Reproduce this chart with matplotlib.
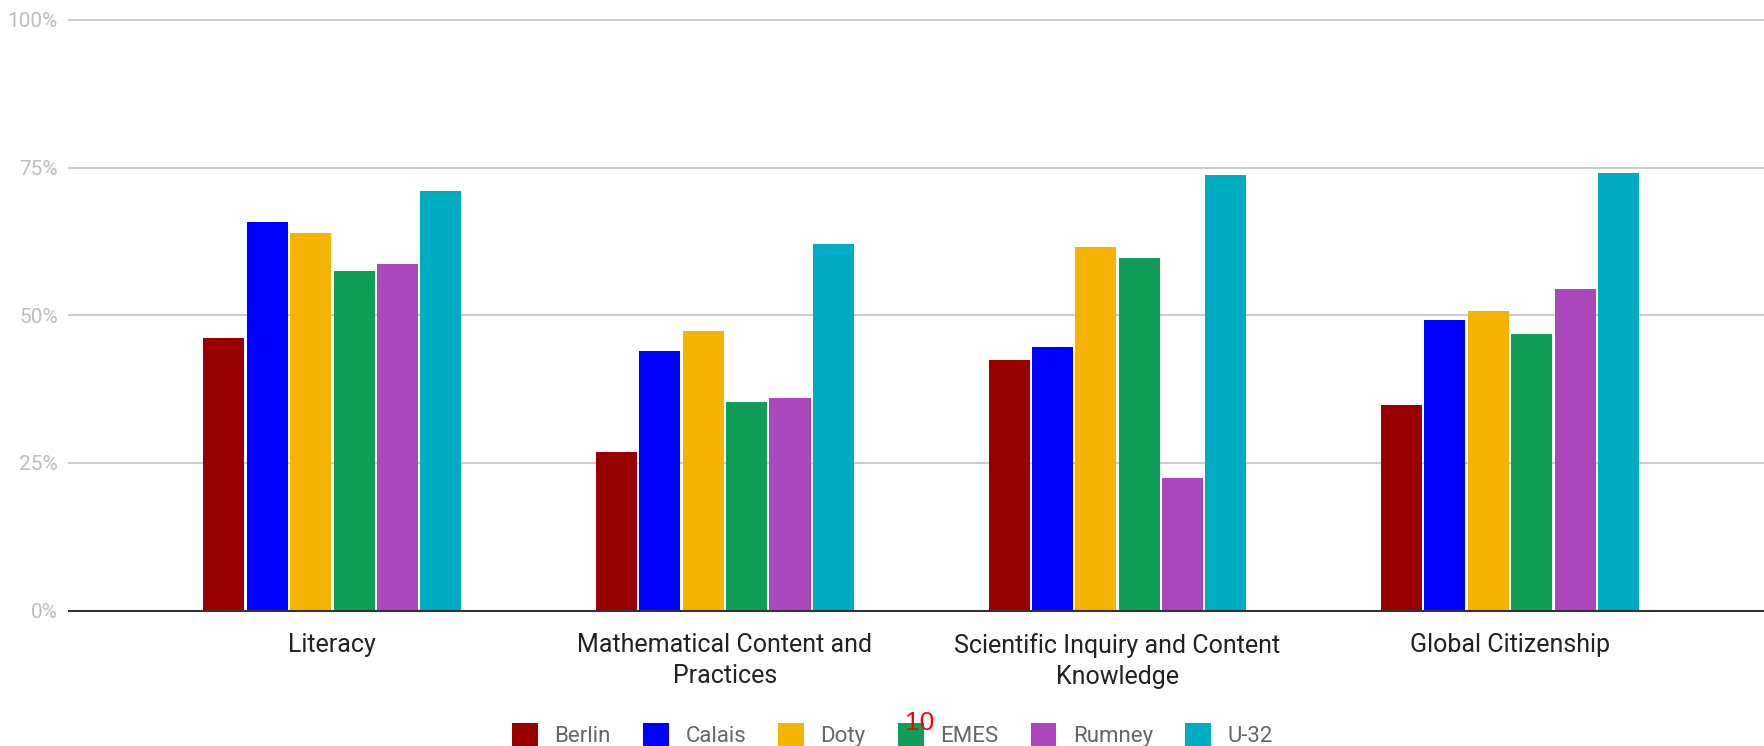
import matplotlib
matplotlib.use("Agg")
import matplotlib.pyplot as plt
import numpy as np

plt.rcParams["font.family"] = ["Roboto", "DejaVu Sans"]

categories = ["Literacy", "Mathematical Content and\nPractices",
              "Scientific Inquiry and Content\nKnowledge", "Global Citizenship"]
schools = ["Berlin", "Calais", "Doty", "EMES", "Rumney", "U-32"]
colors = ["#990000", "#0000ff", "#f4b400", "#0f9d58", "#ab47bc", "#00acc1"]

berlin = [46.2, 26.9, 42.4, 34.8]
calais = [65.8, 43.9, 44.7, 49.2]
doty = [63.9, 47.3, 61.6, 50.7]
emes = [57.5, 35.3, 59.7, 46.9]
rumney = [58.6, 36.0, 22.4, 54.4]
u32 = [71.1, 62.1, 73.8, 74.1]
series = [berlin, calais, doty, emes, rumney, u32]

yticks = [0, 25, 50, 75, 100]
ytick_labels = ["0%", "25%", "50%", "75%", "100%"]

fig = plt.figure(figsize=(17.64, 7.46), dpi=100)
ax = fig.add_axes([69 / 1764, 0.1816, 1 - 69 / 1764, 0.9732 - 0.1816])

x = np.arange(len(categories))
slot = 0.1105
width = 0.1046
handles = []
for i, (name, vals, col) in enumerate(zip(schools, series, colors)):
    b = ax.bar(x + (i - 2.5) * slot, vals, width, color=col, label=name, zorder=2)
    handles.append(b)

for t in yticks[1:]:
    ax.axhline(t, color="#cccccc", lw=1.5, zorder=1, clip_on=False)
ax.axhline(0, color="#333333", lw=1.5, zorder=3, clip_on=False)

ax.set_ylim(0, 100)
ax.set_xlim(-0.671, 3.647)
ax.set_yticks(yticks)
ax.set_yticklabels(ytick_labels, fontsize=15, color="#bdbdbd")
ax.set_xticks(x)
ax.set_xticklabels(categories, fontsize=18, color="#222222", linespacing=1.4)
ax.tick_params(axis="y", length=0, pad=8)
ax.tick_params(axis="x", length=0, pad=16)
for s in ax.spines.values():
    s.set_visible(False)

fig.legend(handles=handles, labels=schools, loc="center", bbox_to_anchor=(0.506, 0.015),
           ncol=6, frameon=False, fontsize=16, handlelength=1.15, handleheight=1.2,
           handletextpad=0.75, columnspacing=1.45, labelcolor="#666666", borderpad=0)

fig.text(0.5213, 0.031, "10", color="red", fontsize=19, ha="center", va="center",
         family=["Liberation Sans", "DejaVu Sans"], zorder=10)

fig.savefig("out.png", dpi=100, facecolor="white")
